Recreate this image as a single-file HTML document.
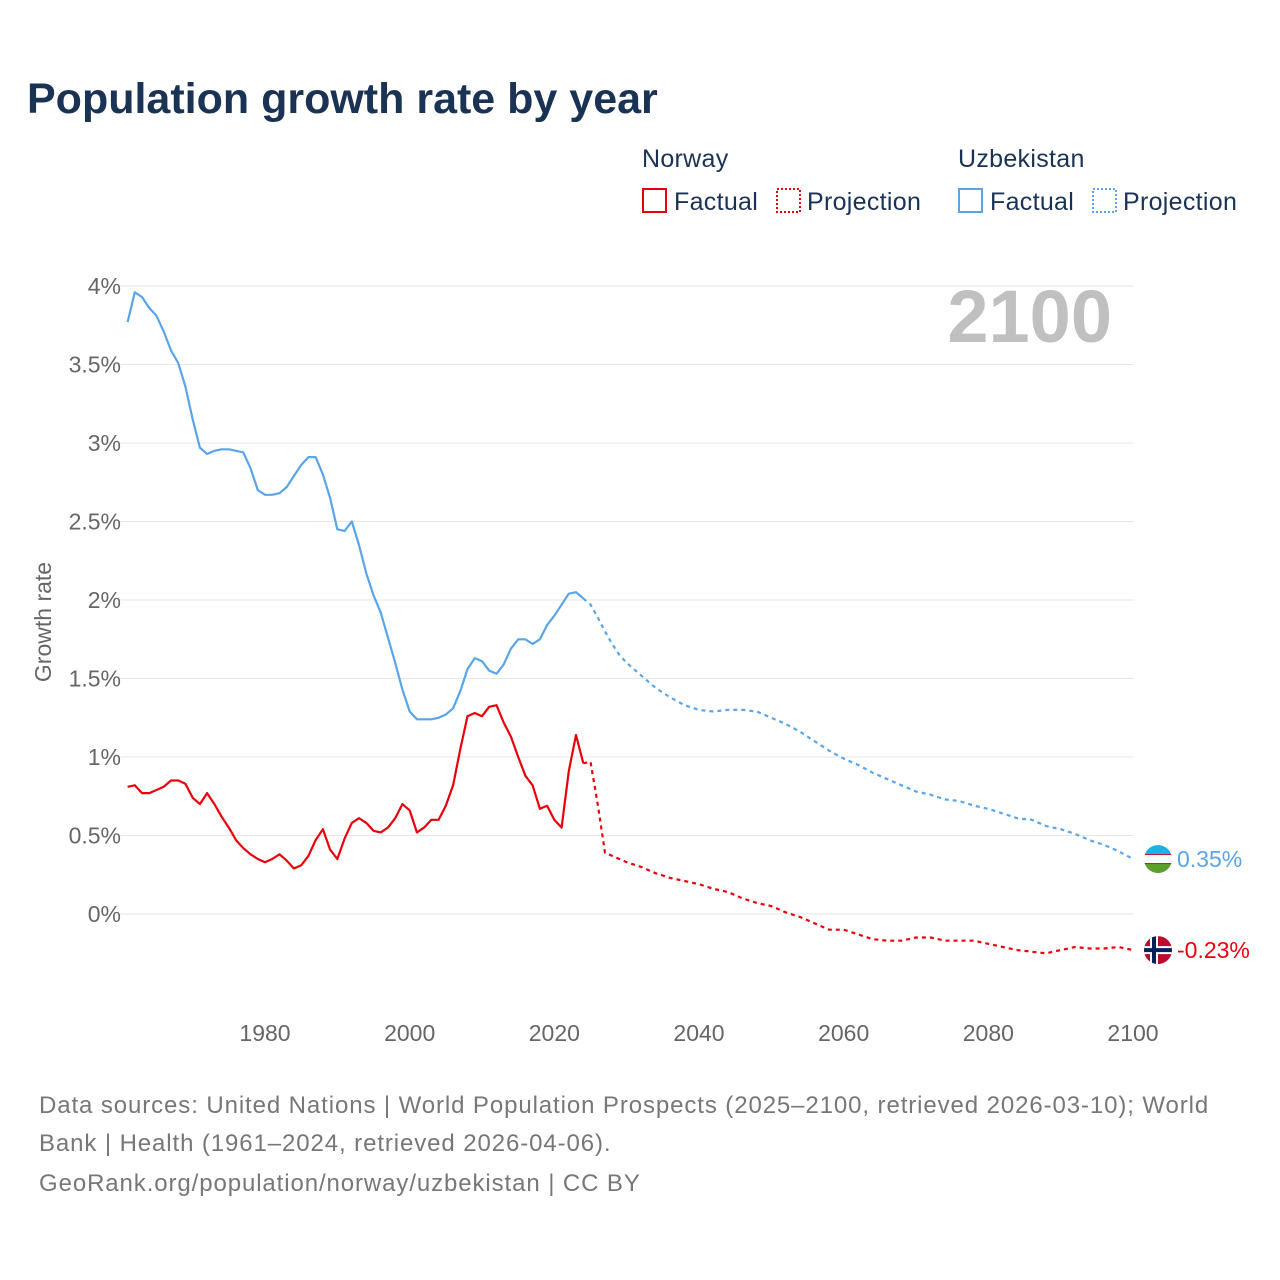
<!DOCTYPE html>
<html><head><meta charset="utf-8"><style>
body{margin:0;background:#fff;font-family:"Liberation Sans",sans-serif;}
#wrap{position:relative;width:1280px;height:1280px;overflow:hidden;}
</style></head><body>
<div id="wrap">
<svg id="svg" width="1280" height="1280" xmlns="http://www.w3.org/2000/svg">
<text x="27" y="113" font-size="43" font-weight="bold" fill="#1a3354">Population growth rate by year</text>
<g font-size="25" fill="#1a3354" letter-spacing="0.3">
<text x="642" y="167">Norway</text>
<rect x="643" y="189" width="23" height="23" fill="none" stroke="#e8000b" stroke-width="2"/>
<text x="674" y="210">Factual</text>
<rect x="777" y="189" width="23" height="23" fill="none" stroke="#e8000b" stroke-width="2" stroke-dasharray="2,2"/>
<text x="807" y="210">Projection</text>
<text x="958" y="167">Uzbekistan</text>
<rect x="959" y="189" width="23" height="23" fill="none" stroke="#5aa5e8" stroke-width="2"/>
<text x="990" y="210">Factual</text>
<rect x="1093" y="189" width="23" height="23" fill="none" stroke="#5aa5e8" stroke-width="2" stroke-dasharray="2,2"/>
<text x="1123" y="210">Projection</text>
</g>
<text x="1112" y="342" font-size="74" font-weight="bold" fill="#c0c0c0" text-anchor="end">2100</text>
<text transform="translate(51,622) rotate(-90)" font-size="23" fill="#666" text-anchor="middle">Growth rate</text>
<g id="grid"></g><g id="series"></g>
<g font-size="24" fill="#777" letter-spacing="0.9">
<text x="39" y="1113">Data sources: United Nations | World Population Prospects (2025–2100, retrieved 2026-03-10); World</text>
<text x="39" y="1151">Bank | Health (1961–2024, retrieved 2026-04-06).</text>
<text x="39" y="1191">GeoRank.org/population/norway/uzbekistan | CC BY</text>
</g>
</svg>
</div>
<script>
const yTicks=[0,0.5,1,1.5,2,2.5,3,3.5,4];
const yTickLabels=["0%","0.5%","1%","1.5%","2%","2.5%","3%","3.5%","4%"];
const xTicks=[1980,2000,2020,2040,2060,2080,2100];
const uzFactYears=[];for(let y=1961;y<=2024;y++)uzFactYears.push(y);
const uzFact=[3.77,3.96,3.93,3.86,3.81,3.71,3.59,3.51,3.36,3.15,2.97,2.93,2.95,2.96,2.96,2.95,2.94,2.84,2.70,2.67,2.67,2.68,2.72,2.79,2.86,2.91,2.91,2.80,2.65,2.45,2.44,2.50,2.35,2.17,2.03,1.92,1.76,1.60,1.43,1.29,1.24,1.24,1.24,1.25,1.27,1.31,1.42,1.56,1.63,1.61,1.55,1.53,1.59,1.69,1.75,1.75,1.72,1.75,1.84,1.90,1.97,2.04,2.05,2.01];
const noFact=[0.81,0.82,0.77,0.77,0.79,0.81,0.85,0.85,0.83,0.74,0.70,0.77,0.70,0.62,0.55,0.47,0.42,0.38,0.35,0.33,0.35,0.38,0.34,0.29,0.31,0.37,0.47,0.54,0.41,0.35,0.48,0.58,0.61,0.58,0.53,0.52,0.55,0.61,0.70,0.66,0.52,0.55,0.60,0.60,0.69,0.82,1.05,1.26,1.28,1.26,1.32,1.33,1.22,1.13,1.00,0.88,0.82,0.67,0.69,0.60,0.55,0.91,1.14,0.96];
const uzProjYears=[2024,2025,2026,2027,2028,2029,2030,2032,2034,2036,2038,2040,2042,2044,2046,2048,2050,2052,2054,2056,2058,2060,2062,2064,2066,2068,2070,2072,2074,2076,2078,2080,2082,2084,2086,2088,2090,2092,2094,2096,2098,2100];
const uzProj=[2.01,1.97,1.89,1.80,1.72,1.65,1.60,1.52,1.44,1.38,1.33,1.30,1.29,1.30,1.30,1.29,1.25,1.21,1.16,1.10,1.04,0.99,0.95,0.90,0.86,0.82,0.78,0.76,0.73,0.72,0.69,0.67,0.64,0.61,0.60,0.56,0.54,0.51,0.47,0.44,0.40,0.35];
const noProjYears=[2024,2025,2026,2027,2028,2030,2032,2034,2036,2038,2040,2042,2044,2046,2048,2050,2052,2054,2056,2058,2060,2062,2064,2066,2068,2070,2072,2074,2076,2078,2080,2082,2084,2086,2088,2090,2092,2094,2096,2098,2100];
const noProj=[0.96,0.97,0.70,0.39,0.37,0.33,0.30,0.26,0.23,0.21,0.19,0.16,0.14,0.10,0.07,0.05,0.01,-0.02,-0.06,-0.10,-0.10,-0.13,-0.16,-0.17,-0.17,-0.15,-0.15,-0.17,-0.17,-0.17,-0.19,-0.21,-0.23,-0.24,-0.25,-0.23,-0.21,-0.22,-0.22,-0.21,-0.23];
const NS="http://www.w3.org/2000/svg";
const xS=y=>265+(y-1980)*(868/120);
const yS=v=>914-v*157;
const grid=document.getElementById('grid'),ser=document.getElementById('series');
function mk(tag,attrs,parent){const e=document.createElementNS(NS,tag);for(const k in attrs)e.setAttribute(k,attrs[k]);parent.appendChild(e);return e;}
yTicks.forEach((t,i)=>{
 const l=mk('line',{x1:120,x2:1133,y1:yS(t),y2:yS(t),stroke:'#e6e6e6','stroke-width':1},grid);
 
 
 const tx=mk('text',{x:121,y:yS(t)+8,'font-size':23,fill:'#666','text-anchor':'end'},grid);
 tx.textContent=yTickLabels[i];
 
 
});
xTicks.forEach(t=>{
 const tx=mk('text',{x:xS(t),y:1041,'font-size':23,fill:'#666','text-anchor':'middle'},grid);
 tx.textContent=t;
 
 
});
function line(xs,vs,color,dash,name){
 const d=xs.map((y,i)=>(i?'L':'M')+xS(y).toFixed(1)+','+yS(vs[i]).toFixed(1)).join('');
 const p=mk('path',{d:d,fill:'none',stroke:color,'stroke-width':2.2,'stroke-linejoin':'round'},ser);
 if(dash)p.setAttribute('stroke-dasharray','4,4');
 
 
}
line(uzFactYears,uzFact,'#5aa5e8',false,'uzbekistan-factual-line');
line(uzProjYears,uzProj,'#5aa5e8',true,'uzbekistan-projection-line');
line(uzFactYears,noFact,'#e8000b',false,'norway-factual-line');
line(noProjYears,noProj,'#e8000b',true,'norway-projection-line');
const cx=1158;
const uy=yS(uzProj[uzProj.length-1]), ny=yS(noProj[noProj.length-1]);
const defs=mk('defs',{},ser);
const c1=mk('clipPath',{id:'cu'},defs);mk('circle',{cx:cx,cy:uy,r:14},c1);
const c2=mk('clipPath',{id:'cn'},defs);mk('circle',{cx:cx,cy:ny,r:14},c2);
const gu=mk('g',{'clip-path':'url(#cu)'},ser);


mk('rect',{x:cx-14,y:uy-14,width:28,height:9.5,fill:'#1eb0e8'},gu);
mk('rect',{x:cx-14,y:uy-4.5,width:28,height:9,fill:'#fff'},gu);
mk('rect',{x:cx-14,y:uy+4.5,width:28,height:9.5,fill:'#5aa02c'},gu);
mk('rect',{x:cx-14,y:uy-5,width:28,height:1,fill:'#ce1126'},gu);
mk('rect',{x:cx-14,y:uy+4,width:28,height:1,fill:'#ce1126'},gu);
const gn=mk('g',{'clip-path':'url(#cn)'},ser);


mk('rect',{x:cx-14,y:ny-14,width:28,height:28,fill:'#ba0c2f'},gn);
mk('rect',{x:cx-14,y:ny-4,width:28,height:8,fill:'#fff'},gn);
mk('rect',{x:cx-8,y:ny-14,width:8,height:28,fill:'#fff'},gn);
mk('rect',{x:cx-14,y:ny-2,width:28,height:4,fill:'#00205b'},gn);
mk('rect',{x:cx-6,y:ny-14,width:4,height:28,fill:'#00205b'},gn);
const lu=mk('text',{x:1177,y:uy+8,'font-size':23,fill:'#5aa5e8'},ser);
lu.textContent=uzProj[uzProj.length-1].toFixed(2)+'%';


const ln=mk('text',{x:1177,y:ny+8,'font-size':23,fill:'#e8000b'},ser);
ln.textContent=noProj[noProj.length-1].toFixed(2)+'%';


</script>
</body></html>
